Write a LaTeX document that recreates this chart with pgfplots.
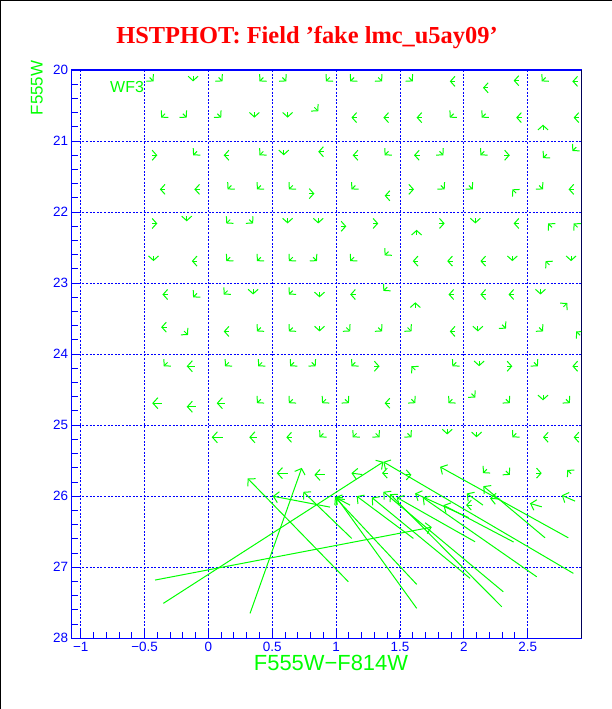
\documentclass[border=0pt]{standalone}
\usepackage{fontspec}
\setmainfont{Liberation Serif}
\setsansfont{Liberation Sans}
\usepackage{pgfplots}
\usepackage{pgfplotstable}
\pgfplotsset{compat=1.18}
\usetikzlibrary{arrows.meta}
\definecolor{hgreen}{RGB}{0,255,0}
\definecolor{hblue}{RGB}{0,0,255}
\definecolor{hred}{RGB}{255,0,0}

% small arrows: tip position and direction (degrees, screen sense)
\pgfplotstableread{
x y d
-0.43 20.16 315
-0.12 20.16 270
0.11 20.16 315
0.40 20.16 225
0.61 20.16 315
0.92 20.16 225
1.11 20.16 225
1.36 20.16 315
1.60 20.16 315
1.89 20.16 180
2.15 20.25 180
2.39 20.15 180
2.61 20.16 225
2.85 20.16 180
-0.37 20.67 225
-0.17 20.67 315
0.10 20.67 315
0.36 20.67 270
0.62 20.67 270
0.86 20.58 315
1.12 20.67 180
1.37 20.67 180
1.63 20.67 180
1.89 20.67 225
2.14 20.67 225
2.41 20.67 180
2.62 20.77 90
2.86 20.67 180
-0.40 21.20 0
-0.12 21.20 225
0.12 21.20 180
0.40 21.20 225
0.59 21.20 270
0.86 21.15 180
1.13 21.20 180
1.38 21.20 225
1.61 21.20 180
1.84 21.20 315
2.13 21.20 225
2.36 21.20 0
2.62 21.24 225
2.85 21.14 225
-0.38 21.68 180
-0.11 21.68 180
0.15 21.68 225
0.38 21.68 225
0.63 21.68 225
0.83 21.74 0
1.12 21.68 225
1.38 21.77 180
1.61 21.68 0
1.85 21.68 315
2.07 21.68 315
2.38 21.68 135
2.62 21.68 315
2.82 21.68 180
-0.40 22.16 0
-0.17 22.13 270
0.14 22.16 225
0.35 22.16 315
0.62 22.16 270
0.86 22.16 270
1.08 22.20 0
1.33 22.16 0
1.63 22.25 90
1.85 22.16 0
2.09 22.16 270
2.39 22.16 180
2.66 22.16 135
2.86 22.16 135
-0.43 22.69 270
-0.13 22.69 180
0.14 22.69 225
0.38 22.69 225
0.63 22.69 225
0.85 22.69 315
1.11 22.69 225
1.38 22.61 225
1.60 22.69 180
1.87 22.69 180
2.13 22.69 180
2.38 22.69 270
2.64 22.69 135
2.84 22.69 270
-0.36 23.16 180
-0.12 23.20 225
0.12 23.16 225
0.35 23.16 270
0.63 23.16 225
0.87 23.20 270
1.11 23.16 180
1.37 23.11 225
1.62 23.27 90
1.88 23.16 180
2.13 23.16 180
2.35 23.16 180
2.60 23.16 270
2.81 23.28 45
-0.37 23.62 180
-0.16 23.73 315
0.12 23.68 180
0.38 23.68 225
0.63 23.68 225
0.87 23.68 270
1.11 23.68 315
1.36 23.68 315
1.59 23.68 315
1.89 23.68 180
2.11 23.68 270
2.33 23.64 315
2.62 23.68 315
2.88 23.68 135
-0.35 24.17 225
0.13 24.17 225
0.39 24.17 225
0.64 24.17 225
0.84 24.17 315
1.12 24.17 225
1.34 24.17 0
1.59 24.17 135
1.91 24.17 225
2.12 24.17 270
2.38 24.17 0
2.58 24.17 315
2.85 24.17 180
0.38 24.69 225
0.63 24.69 225
0.89 24.69 225
1.10 24.69 315
1.38 24.69 180
1.62 24.69 315
1.88 24.69 225
2.09 24.61 315
2.36 24.69 315
2.62 24.65 270
2.83 24.69 315
0.61 25.17 180
0.87 25.17 225
1.13 25.17 225
1.34 25.17 315
1.59 25.17 315
1.87 25.13 270
2.10 25.17 270
2.38 25.17 225
2.62 25.17 180
2.86 25.17 180
1.36 25.675 180
1.59 25.70 0
2.15 25.675 225
2.36 25.70 315
2.61 25.675 0
2.81 25.63 135
2.018 26.125 180
}\smallarrows

% long arrows: tip position and offset to tail
\pgfplotstableread{
x y u v
1.749 26.435 -2.167 0.745
1.370 25.516 -1.723 1.992
1.370 25.516 1.488 1.570
0.731 25.601 -0.405 2.048
0.308 25.750 0.788 1.454
0.504 25.999 0.448 0.154
0.743 25.938 0.379 0.656
0.991 26.013 0.640 1.228
1.007 26.027 0.624 1.551
0.991 26.013 0.118 0.112
1.161 25.999 0.444 0.595
1.279 26.017 0.770 1.139
1.475 26.017 0.613 0.624
1.370 25.938 0.939 1.407
1.422 25.971 0.875 1.585
1.678 26.017 0.893 1.117
1.840 26.125 0.550 0.520
1.814 25.587 1.004 0.998
2.153 25.858 0.483 0.727
2.023 25.961 0.127 0.164
2.518 26.101 0.092 0.048
2.767 25.987 0.104 0.082
1.618 25.961 0.420 0.340
-0.44 24.69 0.080 0.000
-0.17 24.74 0.075 0.000
0.065 24.69 0.065 0.000
0.026 25.17 0.085 0.000
0.32 25.17 0.060 0.000
0.535 25.675 0.085 0.000
0.83 25.70 0.080 0.000
1.12 25.675 0.085 0.020
2.205 26.03 0.080 0.010
-0.17 24.17 0.065 0.000
}\longarrows

\begin{document}
\begin{tikzpicture}
\path[use as bounding box] (-71.7bp,-70.7bp) rectangle (540.3bp,638.3bp);
\draw[black, line width=1.2bp] (-71.1bp,-70.7bp) -- (-71.1bp,637.7bp) -- (540.3bp,637.7bp);
\begin{axis}[
  at={(0,0)}, anchor=south west,
  scale only axis, width=510bp, height=568.3bp,
  xmin=-1.0705, xmax=2.923, ymin=20, ymax=28, y dir=reverse,
  xtick={-1,-0.5,0,0.5,1,1.5,2,2.5},
  xticklabels={−1,−0.5,0,0.5,1,1.5,2,2.5},
  ytick={20,21,22,23,24,25,26,27,28},
  yticklabels={20,21,22,23,24,25,26,27,28},
  minor x tick num=4, minor y tick num=4,
  xtick pos=left, ytick pos=left,
  tick align=inside,
  major tick length=8bp, minor tick length=6bp,
  tick style={hblue, line width=1bp},
  axis line style={hblue, line width=1.2bp},
  grid=major,
  major grid style={hblue, line width=0.8bp, dash pattern=on 2bp off 1.6bp},
  ticklabel style={font=\sffamily\fontsize{13.5}{13.5}\selectfont, text=hblue},
  clip=true,
]
\addplot[hgreen, line width=1bp, {Straight Barb[length=4.5bp,width=10bp]}-,
  quiver={u={-0.043*cos(\thisrow{d})}, v={0.077*sin(\thisrow{d})}}]
  table[x=x, y=y] {\smallarrows};
\addplot[hgreen, line width=1bp, {Straight Barb[length=5bp,width=11bp]}-,
  quiver={u=\thisrow{u}, v=\thisrow{v}}]
  table[x=x, y=y] {\longarrows};
\node[text=hgreen, font=\sffamily\fontsize{16}{16}\selectfont] at (axis cs:-0.637,20.246) {WF3};
\draw[black, line width=1.2bp] (rel axis cs:1,0) -- (rel axis cs:1,1);
\end{axis}
\node[text=hred, font=\bfseries\fontsize{24.5}{24.5}\selectfont] at (235.3bp,600.3bp) {HSTPHOT: Field ’fake lmc\_u5ay09’};
\node[text=hgreen, font=\sffamily\fontsize{22}{22}\selectfont] at (259.3bp,-24.7bp) {F555W−F814W};
\node[text=hgreen, font=\sffamily\fontsize{17}{17}\selectfont, rotate=90] at (-34.7bp,550.3bp) {F555W};
\end{tikzpicture}
\end{document}
